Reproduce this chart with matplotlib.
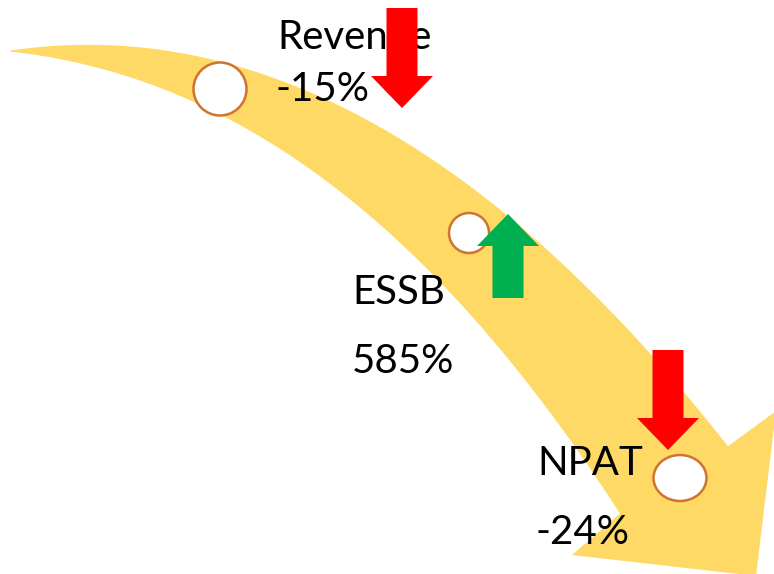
import numpy as np
import matplotlib.pyplot as plt
import matplotlib.patches as mpatches

# 数据
labels = ['Revenue', 'ESSB', 'NPAT']
changes = [-15, 585, -24]

# 画布按像素坐标 (774x574, y 向下)
fig = plt.figure(figsize=(7.74, 5.74), dpi=100)
ax = fig.add_axes([0, 0, 1, 1])
ax.set_xlim(0, 774)
ax.set_ylim(574, 0)
ax.axis('off')


def edge(pts, x0, x1, deg=3):
    # 用多项式拟合箭头的边缘, 让曲线平滑
    pts = np.asarray(pts, float)
    c = np.polyfit(pts[:, 0], pts[:, 1], deg)
    xs = np.linspace(x0, x1, 200)
    return np.column_stack([xs, np.polyval(c, xs)])


# 弯曲的大箭头
upper = edge([(10, 50), (100, 46), (250, 70), (350, 110), (450, 172),
              (600, 300), (683, 393), (728, 445)], 10, 728)
lower = edge([(10, 50), (150, 90), (250, 127), (350, 193), (405, 252),
              (523, 380), (620, 512)], 10, 620)
head = np.array([(776, 411), (756, 576), (572, 555)])
outline = np.vstack([upper, head, lower[::-1]])
ax.add_patch(mpatches.Polygon(outline, closed=True, facecolor='#FFD966',
                              edgecolor='none', zorder=1))

# 圆点
circles = [(220, 89, 53, 53), (469, 233, 40, 40), (680, 478, 53, 46)]
for cx, cy, w, h in circles:
    ax.add_patch(mpatches.Ellipse((cx, cy), w, h, facecolor='white',
                                  edgecolor='#D0732F', lw=1.8, zorder=2))

# 文字
font = dict(family='Lato', fontsize=29, color='black', zorder=3)
ax.text(277, 49, labels[0], **font)
ax.text(275, 101, f'{changes[0]}%', **font)
ax.text(352, 304, labels[1], **font)
ax.text(352, 373, f'{changes[1]}%', **font)
ax.text(537, 475, labels[2], **font)
ax.text(535, 544, f'{changes[2]}%', **font)

# 涨跌箭头: (中心x, 起点y, 长度)
arrows = [(402, 8, 100), (508, 298, 84), (668, 350, 100)]
for (x, y0, length), c in zip(arrows, changes):
    dy = length if c < 0 else -length
    color = '#FF0000' if c < 0 else '#00B050'
    ax.add_patch(mpatches.FancyArrow(x, y0, 0, dy, width=31, head_width=62,
                                     head_length=32, length_includes_head=True,
                                     facecolor=color, edgecolor='none', zorder=4))

fig.savefig('out.png', dpi=100)
